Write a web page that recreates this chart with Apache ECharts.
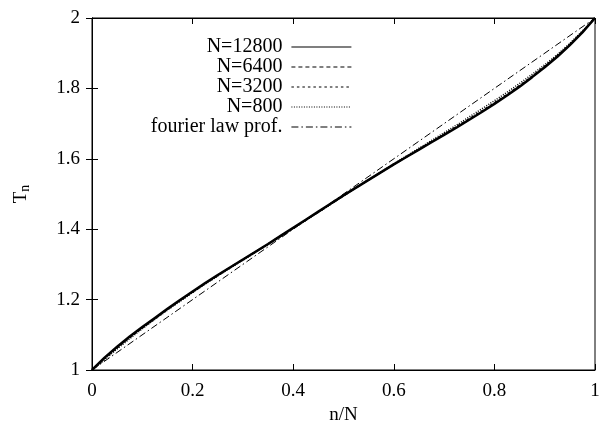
<!DOCTYPE html>
<html><head><meta charset="utf-8">
<script src="https://cdn.jsdelivr.net/npm/echarts@6/dist/echarts.min.js"></script>
<style>html,body{margin:0;padding:0;background:#fff}#c{width:608px;height:430px}</style>
</head><body><div id="c"></div>
<script>
var xs = [0,0.025,0.05,0.075,0.1,0.125,0.15,0.175,0.2,0.225,0.25,0.275,0.3,0.325,0.35,0.375,0.4,0.425,0.45,0.475,0.5,0.525,0.55,0.575,0.6,0.625,0.65,0.675,0.7,0.725,0.75,0.775,0.8,0.825,0.85,0.875,0.9,0.925,0.95,0.975,1];
var T12800 = [1.000,1.035,1.066,1.095,1.122,1.148,1.174,1.199,1.223,1.247,1.270,1.292,1.314,1.336,1.358,1.381,1.404,1.427,1.450,1.473,1.496,1.518,1.540,1.562,1.584,1.605,1.626,1.647,1.668,1.689,1.711,1.733,1.756,1.780,1.805,1.832,1.860,1.890,1.923,1.959,2.000];
var T6400 = [1.000,1.034,1.065,1.094,1.121,1.147,1.173,1.198,1.222,1.246,1.269,1.292,1.314,1.336,1.358,1.381,1.403,1.426,1.449,1.472,1.495,1.518,1.540,1.562,1.584,1.605,1.626,1.648,1.669,1.690,1.712,1.734,1.757,1.781,1.806,1.833,1.861,1.891,1.924,1.960,2.000];
var T3200 = [1.000,1.032,1.063,1.092,1.120,1.146,1.172,1.197,1.221,1.245,1.268,1.291,1.313,1.335,1.357,1.380,1.403,1.426,1.449,1.472,1.495,1.518,1.540,1.562,1.584,1.606,1.627,1.649,1.670,1.692,1.714,1.736,1.759,1.783,1.808,1.835,1.863,1.893,1.925,1.961,2.000];
var T800 = [1.000,1.029,1.060,1.089,1.117,1.144,1.170,1.195,1.220,1.244,1.267,1.290,1.312,1.334,1.357,1.379,1.402,1.425,1.448,1.471,1.495,1.518,1.541,1.563,1.586,1.608,1.630,1.652,1.674,1.696,1.719,1.742,1.765,1.789,1.814,1.840,1.867,1.896,1.928,1.963,2.000];
var fourierX = [0, 1];
var fourierT = [1, 2];
var xTicks = ['0','0.2','0.4','0.6','0.8','1'];
var yTicks = ['1','1.2','1.4','1.6','1.8','2'];

function pairs(x, y){ return x.map(function(v,i){ return [v, y[i]]; }); }
var F = 'Liberation Serif';
var chart = echarts.init(document.getElementById('c'), null, {renderer:'canvas'});
function line(name, x, y, type, w){
  return {name:name, type:'line', data:pairs(x,y), symbol:'none', showSymbol:false, animation:false,
    lineStyle:{color:'#000', width:w, type:type}, itemStyle:{color:'#000'}, xAxisIndex:0, yAxisIndex:0};
}
var tickStyle = {show:true, inside:true, length:6, lineStyle:{color:'#000', width:1}};
chart.setOption({
  backgroundColor:'#fff',
  animation:false,
  grid:{left:92, right:13, top:18, bottom:58, show:true, borderColor:'#000', borderWidth:1, backgroundColor:'transparent'},
  legend:{orient:'vertical', align:'right', right:256, top:37, itemWidth:60, itemHeight:10, itemGap:0, padding:0,
    itemStyle:{opacity:0}, lineStyle:{width:1.2},
    textStyle:{fontFamily:F, fontSize:20, color:'#000', lineHeight:18.5, padding:[0,4,0,0]},
    data:['N=12800','N=6400','N=3200','N=800','fourier law prof.']},
  xAxis:[
    {type:'value', min:0, max:1, interval:0.2, position:'bottom',
     name:'n/N', nameLocation:'middle', nameGap:36, nameTextStyle:{fontFamily:F, fontSize:19, color:'#000'},
     axisLine:{show:true, lineStyle:{color:'#000'}}, axisTick:tickStyle, splitLine:{show:false},
     axisLabel:{fontFamily:F, fontSize:19, color:'#000', margin:12, formatter:function(v){return xTicks[Math.round(v/0.2)];}}},
    {type:'value', min:0, max:1, interval:0.2, position:'top',
     axisLine:{show:true, lineStyle:{color:'#000'}}, axisTick:tickStyle, axisLabel:{show:false}, splitLine:{show:false}}
  ],
  yAxis:[
    {type:'value', min:1, max:2, interval:0.2, position:'left',
     name:'{a|T}{b|n}', nameLocation:'middle', nameGap:60, nameRotate:90,
     nameTextStyle:{rich:{a:{fontFamily:F, fontSize:19, color:'#000'}, b:{fontFamily:F, fontSize:14, color:'#000', padding:[8,0,0,0]}}},
     axisLine:{show:true, lineStyle:{color:'#000'}}, axisTick:tickStyle, splitLine:{show:false},
     axisLabel:{fontFamily:F, fontSize:19, color:'#000', margin:12, formatter:function(v){return yTicks[Math.round((v-1)/0.2)];}}},
    {type:'value', min:1, max:2, interval:0.2, position:'right',
     axisLine:{show:true, lineStyle:{color:'#000'}}, axisTick:tickStyle, axisLabel:{show:false}, splitLine:{show:false}}
  ],
  series:[
    line('N=12800', xs, T12800, 'solid', 2.5),
    line('N=6400', xs, T6400, [4,3], 1.5),
    line('N=3200', xs, T3200, [2.5,3], 1.5),
    line('N=800', xs, T800, [1,1.5], 1.5),
    line('fourier law prof.', fourierX, fourierT, [7,3,1.5,3], 1)
  ]
});
</script></body></html>
